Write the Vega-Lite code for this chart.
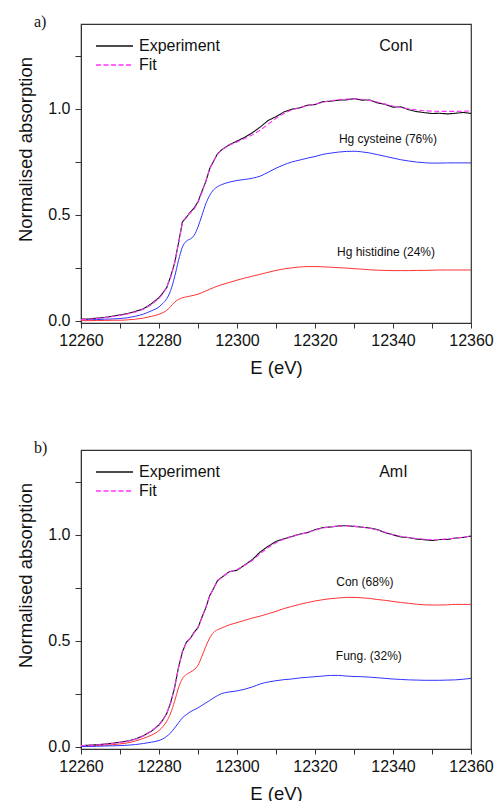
{
"$schema": "https://vega.github.io/schema/vega-lite/v6.json",
"padding": {"left": 16, "top": 13, "right": 5, "bottom": 5},
"spacing": 61,
"datasets": {
"a": [
{"E":12260,"Experiment":0.008,"Fit":0.006,"cysteine":0.004,"histidine":0.001},
{"E":12262,"Experiment":0.009,"Fit":0.008,"cysteine":0.005,"histidine":0.001},
{"E":12264,"Experiment":0.013,"Fit":0.011,"cysteine":0.006,"histidine":0.002},
{"E":12266,"Experiment":0.016,"Fit":0.015,"cysteine":0.008,"histidine":0.002},
{"E":12268,"Experiment":0.022,"Fit":0.020,"cysteine":0.009,"histidine":0.003},
{"E":12270,"Experiment":0.028,"Fit":0.026,"cysteine":0.011,"histidine":0.003},
{"E":12272,"Experiment":0.035,"Fit":0.033,"cysteine":0.015,"histidine":0.005},
{"E":12274,"Experiment":0.045,"Fit":0.042,"cysteine":0.022,"histidine":0.008},
{"E":12276,"Experiment":0.057,"Fit":0.055,"cysteine":0.032,"histidine":0.013},
{"E":12278,"Experiment":0.080,"Fit":0.076,"cysteine":0.047,"histidine":0.021},
{"E":12280,"Experiment":0.110,"Fit":0.106,"cysteine":0.066,"histidine":0.031},
{"E":12281,"Experiment":0.132,"Fit":0.128,"cysteine":0.083,"histidine":0.039},
{"E":12282,"Experiment":0.158,"Fit":0.160,"cysteine":0.105,"histidine":0.050},
{"E":12283,"Experiment":0.210,"Fit":0.207,"cysteine":0.144,"histidine":0.068},
{"E":12284,"Experiment":0.272,"Fit":0.275,"cysteine":0.207,"histidine":0.088},
{"E":12285,"Experiment":0.368,"Fit":0.365,"cysteine":0.285,"histidine":0.101},
{"E":12286,"Experiment":0.466,"Fit":0.462,"cysteine":0.348,"histidine":0.109},
{"E":12287,"Experiment":0.488,"Fit":0.492,"cysteine":0.376,"histidine":0.113},
{"E":12288,"Experiment":0.512,"Fit":0.508,"cysteine":0.386,"histidine":0.117},
{"E":12289,"Experiment":0.532,"Fit":0.527,"cysteine":0.403,"histidine":0.121},
{"E":12290,"Experiment":0.562,"Fit":0.558,"cysteine":0.443,"histidine":0.126},
{"E":12291,"Experiment":0.610,"Fit":0.605,"cysteine":0.497,"histidine":0.133},
{"E":12292,"Experiment":0.657,"Fit":0.660,"cysteine":0.552,"histidine":0.141},
{"E":12293,"Experiment":0.718,"Fit":0.715,"cysteine":0.592,"histidine":0.149},
{"E":12294,"Experiment":0.753,"Fit":0.755,"cysteine":0.618,"histidine":0.157},
{"E":12295,"Experiment":0.788,"Fit":0.785,"cysteine":0.633,"histidine":0.164},
{"E":12296,"Experiment":0.806,"Fit":0.806,"cysteine":0.642,"histidine":0.170},
{"E":12298,"Experiment":0.830,"Fit":0.828,"cysteine":0.654,"histidine":0.181},
{"E":12300,"Experiment":0.848,"Fit":0.843,"cysteine":0.662,"histidine":0.192},
{"E":12302,"Experiment":0.866,"Fit":0.860,"cysteine":0.667,"histidine":0.202},
{"E":12304,"Experiment":0.888,"Fit":0.878,"cysteine":0.673,"histidine":0.211},
{"E":12306,"Experiment":0.915,"Fit":0.900,"cysteine":0.683,"histidine":0.220},
{"E":12308,"Experiment":0.945,"Fit":0.928,"cysteine":0.701,"histidine":0.229},
{"E":12310,"Experiment":0.963,"Fit":0.955,"cysteine":0.720,"histidine":0.238},
{"E":12312,"Experiment":0.985,"Fit":0.978,"cysteine":0.736,"histidine":0.245},
{"E":12314,"Experiment":0.998,"Fit":0.995,"cysteine":0.749,"histidine":0.250},
{"E":12316,"Experiment":1.004,"Fit":1.006,"cysteine":0.758,"histidine":0.254},
{"E":12318,"Experiment":1.017,"Fit":1.014,"cysteine":0.767,"histidine":0.256},
{"E":12320,"Experiment":1.020,"Fit":1.022,"cysteine":0.775,"histidine":0.256},
{"E":12322,"Experiment":1.034,"Fit":1.031,"cysteine":0.785,"histidine":0.255},
{"E":12324,"Experiment":1.036,"Fit":1.038,"cysteine":0.791,"histidine":0.253},
{"E":12326,"Experiment":1.041,"Fit":1.043,"cysteine":0.796,"histidine":0.251},
{"E":12328,"Experiment":1.042,"Fit":1.046,"cysteine":0.799,"histidine":0.249},
{"E":12330,"Experiment":1.048,"Fit":1.047,"cysteine":0.800,"histidine":0.246},
{"E":12332,"Experiment":1.041,"Fit":1.045,"cysteine":0.797,"histidine":0.244},
{"E":12334,"Experiment":1.042,"Fit":1.040,"cysteine":0.792,"histidine":0.241},
{"E":12336,"Experiment":1.028,"Fit":1.032,"cysteine":0.784,"histidine":0.239},
{"E":12338,"Experiment":1.021,"Fit":1.022,"cysteine":0.776,"histidine":0.238},
{"E":12340,"Experiment":1.008,"Fit":1.013,"cysteine":0.768,"histidine":0.237},
{"E":12342,"Experiment":1.009,"Fit":1.006,"cysteine":0.760,"histidine":0.237},
{"E":12344,"Experiment":0.996,"Fit":1.000,"cysteine":0.754,"histidine":0.237},
{"E":12346,"Experiment":0.987,"Fit":0.995,"cysteine":0.749,"histidine":0.238},
{"E":12348,"Experiment":0.982,"Fit":0.991,"cysteine":0.746,"histidine":0.238},
{"E":12350,"Experiment":0.978,"Fit":0.989,"cysteine":0.744,"histidine":0.239},
{"E":12352,"Experiment":0.979,"Fit":0.988,"cysteine":0.744,"histidine":0.240},
{"E":12354,"Experiment":0.976,"Fit":0.988,"cysteine":0.745,"histidine":0.240},
{"E":12356,"Experiment":0.979,"Fit":0.988,"cysteine":0.745,"histidine":0.240},
{"E":12358,"Experiment":0.983,"Fit":0.989,"cysteine":0.745,"histidine":0.240},
{"E":12360,"Experiment":0.978,"Fit":0.990,"cysteine":0.745,"histidine":0.240}
],
"b": [
{"E":12260,"Experiment":0.006,"Fit":0.006,"con":0.003,"fung":0.002},
{"E":12262,"Experiment":0.008,"Fit":0.007,"con":0.004,"fung":0.002},
{"E":12264,"Experiment":0.010,"Fit":0.009,"con":0.006,"fung":0.003},
{"E":12266,"Experiment":0.013,"Fit":0.012,"con":0.008,"fung":0.004},
{"E":12268,"Experiment":0.017,"Fit":0.016,"con":0.010,"fung":0.005},
{"E":12270,"Experiment":0.022,"Fit":0.021,"con":0.014,"fung":0.006},
{"E":12272,"Experiment":0.028,"Fit":0.027,"con":0.019,"fung":0.008},
{"E":12274,"Experiment":0.037,"Fit":0.036,"con":0.028,"fung":0.011},
{"E":12276,"Experiment":0.053,"Fit":0.051,"con":0.040,"fung":0.016},
{"E":12278,"Experiment":0.073,"Fit":0.074,"con":0.055,"fung":0.022},
{"E":12280,"Experiment":0.104,"Fit":0.102,"con":0.077,"fung":0.030},
{"E":12281,"Experiment":0.128,"Fit":0.127,"con":0.096,"fung":0.038},
{"E":12282,"Experiment":0.158,"Fit":0.160,"con":0.121,"fung":0.050},
{"E":12283,"Experiment":0.209,"Fit":0.207,"con":0.160,"fung":0.066},
{"E":12284,"Experiment":0.280,"Fit":0.278,"con":0.215,"fung":0.089},
{"E":12285,"Experiment":0.375,"Fit":0.372,"con":0.278,"fung":0.113},
{"E":12286,"Experiment":0.448,"Fit":0.451,"con":0.322,"fung":0.137},
{"E":12287,"Experiment":0.493,"Fit":0.490,"con":0.341,"fung":0.152},
{"E":12288,"Experiment":0.511,"Fit":0.513,"con":0.352,"fung":0.165},
{"E":12289,"Experiment":0.540,"Fit":0.537,"con":0.364,"fung":0.175},
{"E":12290,"Experiment":0.562,"Fit":0.564,"con":0.385,"fung":0.184},
{"E":12291,"Experiment":0.611,"Fit":0.608,"con":0.427,"fung":0.196},
{"E":12292,"Experiment":0.656,"Fit":0.658,"con":0.474,"fung":0.207},
{"E":12293,"Experiment":0.713,"Fit":0.710,"con":0.513,"fung":0.219},
{"E":12294,"Experiment":0.747,"Fit":0.749,"con":0.540,"fung":0.231},
{"E":12295,"Experiment":0.784,"Fit":0.780,"con":0.552,"fung":0.242},
{"E":12296,"Experiment":0.798,"Fit":0.801,"con":0.560,"fung":0.251},
{"E":12298,"Experiment":0.826,"Fit":0.824,"con":0.575,"fung":0.259},
{"E":12300,"Experiment":0.833,"Fit":0.837,"con":0.586,"fung":0.264},
{"E":12302,"Experiment":0.858,"Fit":0.856,"con":0.597,"fung":0.272},
{"E":12304,"Experiment":0.884,"Fit":0.880,"con":0.608,"fung":0.283},
{"E":12306,"Experiment":0.920,"Fit":0.912,"con":0.617,"fung":0.297},
{"E":12308,"Experiment":0.946,"Fit":0.940,"con":0.628,"fung":0.306},
{"E":12310,"Experiment":0.969,"Fit":0.963,"con":0.639,"fung":0.312},
{"E":12312,"Experiment":0.981,"Fit":0.979,"con":0.652,"fung":0.317},
{"E":12314,"Experiment":0.992,"Fit":0.991,"con":0.662,"fung":0.320},
{"E":12316,"Experiment":1.003,"Fit":1.002,"con":0.672,"fung":0.325},
{"E":12318,"Experiment":1.010,"Fit":1.011,"con":0.680,"fung":0.328},
{"E":12320,"Experiment":1.024,"Fit":1.022,"con":0.688,"fung":0.331},
{"E":12322,"Experiment":1.034,"Fit":1.032,"con":0.694,"fung":0.334},
{"E":12324,"Experiment":1.037,"Fit":1.038,"con":0.699,"fung":0.337},
{"E":12326,"Experiment":1.042,"Fit":1.041,"con":0.702,"fung":0.337},
{"E":12328,"Experiment":1.043,"Fit":1.042,"con":0.705,"fung":0.334},
{"E":12330,"Experiment":1.040,"Fit":1.041,"con":0.705,"fung":0.332},
{"E":12332,"Experiment":1.036,"Fit":1.037,"con":0.703,"fung":0.331},
{"E":12334,"Experiment":1.032,"Fit":1.031,"con":0.700,"fung":0.329},
{"E":12336,"Experiment":1.025,"Fit":1.023,"con":0.695,"fung":0.326},
{"E":12338,"Experiment":1.010,"Fit":1.012,"con":0.691,"fung":0.323},
{"E":12340,"Experiment":1.000,"Fit":1.001,"con":0.686,"fung":0.320},
{"E":12342,"Experiment":0.990,"Fit":0.993,"con":0.681,"fung":0.318},
{"E":12344,"Experiment":0.987,"Fit":0.987,"con":0.677,"fung":0.316},
{"E":12346,"Experiment":0.980,"Fit":0.983,"con":0.673,"fung":0.315},
{"E":12348,"Experiment":0.977,"Fit":0.979,"con":0.670,"fung":0.314},
{"E":12350,"Experiment":0.973,"Fit":0.977,"con":0.669,"fung":0.314},
{"E":12352,"Experiment":0.978,"Fit":0.978,"con":0.669,"fung":0.314},
{"E":12354,"Experiment":0.978,"Fit":0.981,"con":0.670,"fung":0.315},
{"E":12356,"Experiment":0.985,"Fit":0.984,"con":0.672,"fung":0.316},
{"E":12358,"Experiment":0.988,"Fit":0.989,"con":0.672,"fung":0.319},
{"E":12360,"Experiment":0.994,"Fit":0.995,"con":0.672,"fung":0.323}
],
"la": [
{"E":12340.8,"value":1.295,"label":"ConI","kind":"sample"},
{"E":12338.7,"value":0.86,"label":"Hg cysteine (76%)","kind":"component"},
{"E":12338.2,"value":0.323,"label":"Hg histidine (24%)","kind":"component"}
],
"lb": [
{"E":12340.1,"value":1.298,"label":"AmI","kind":"sample"},
{"E":12332.8,"value":0.777,"label":"Con (68%)","kind":"component"},
{"E":12333.8,"value":0.427,"label":"Fung. (32%)","kind":"component"}
]
},
"config": {
"view": {"stroke": "#333333", "strokeWidth": 1.2},
"axis": {"grid": false, "domainColor": "#333333", "tickColor": "#333333", "labelFont": "Liberation Sans", "titleFont": "Liberation Sans", "labelColor": "#111111", "titleColor": "#111111", "labelFontSize": 16, "titleFontSize": 18.5, "titleFontWeight": "normal", "labelFlush": false, "labelOverlap": false},
"legend": {"orient": "none", "legendX": 14, "legendY": 14, "title": null, "symbolType": "stroke", "symbolSize": 1369, "symbolStrokeWidth": 1.3, "labelFont": "Liberation Sans", "labelFontSize": 16, "labelColor": "#111111", "labelOffset": 5, "rowPadding": 3, "padding": 0, "clipHeight": 16},
"title": {"font": "Liberation Serif", "fontSize": 16, "fontWeight": "normal", "color": "#111111", "anchor": "start", "frame": "group", "offset": 0, "baseline": "alphabetic"}
},
"resolve": {"legend": {"color": "independent", "strokeDash": "independent"}},
"vconcat": [
{
"width": 390, "height": 299,
"title": {"text": "a)", "dx": -47, "dy": 10},
"encoding": {
"x": {"field": "E", "type": "quantitative", "scale": {"domain": [12260, 12360], "nice": false, "zero": false},
 "axis": {"title": "E (eV)", "values": [12260,12270,12280,12290,12300,12310,12320,12330,12340,12350,12360], "labelExpr": "datum.value % 20 == 0 ? format(datum.value, 'd') : ''", "tickSize": 5, "labelPadding": 4, "titlePadding": 10}},
"y": {"field": "value", "type": "quantitative", "scale": {"domain": [-0.01, 1.4], "nice": false, "zero": false},
 "axis": {"title": "Normalised absorption", "values": [0, 0.25, 0.5, 0.75, 1, 1.25], "labelExpr": "datum.value == 0 || datum.value == 0.5 || datum.value == 1 ? format(datum.value, '.1f') : ''", "tickSize": 6, "labelPadding": 5, "titlePadding": 12, "titleY": 125}}
},
"layer": [
{"data": {"name": "a"}, "transform": [{"fold": ["cysteine"], "as": ["series", "value"]}],
 "mark": {"type": "line", "color": "#3333ff", "strokeWidth": 1, "interpolate": "monotone"}},
{"data": {"name": "a"}, "transform": [{"fold": ["histidine"], "as": ["series", "value"]}],
 "mark": {"type": "line", "color": "#ff3333", "strokeWidth": 1, "interpolate": "monotone"}},
{"data": {"name": "a"}, "transform": [{"fold": ["Experiment", "Fit"], "as": ["series", "value"]}],
 "mark": {"type": "line", "strokeWidth": 1.1, "interpolate": "linear"},
 "encoding": {
  "color": {"field": "series", "type": "nominal", "scale": {"domain": ["Experiment", "Fit"], "range": ["#111111", "#ff33ff"]}, "legend": {"title": null}},
  "strokeDash": {"field": "series", "type": "nominal", "scale": {"domain": ["Experiment", "Fit"], "range": [[1, 0], [5, 2.5]]}, "legend": {"title": null}}
 }},
{"data": {"name": "la"}, "transform": [{"filter": "datum.kind == 'sample'"}],
 "mark": {"type": "text", "font": "Liberation Sans", "fontSize": 16, "color": "#111111", "align": "center", "baseline": "middle"},
 "encoding": {"text": {"field": "label"}}},
{"data": {"name": "la"}, "transform": [{"filter": "datum.kind == 'component'"}],
 "mark": {"type": "text", "font": "Liberation Sans", "fontSize": 12, "color": "#111111", "align": "center", "baseline": "middle"},
 "encoding": {"text": {"field": "label"}}}
]
},
{
"width": 390, "height": 299,
"title": {"text": "b)", "dx": -47, "dy": 10},
"encoding": {
"x": {"field": "E", "type": "quantitative", "scale": {"domain": [12260, 12360], "nice": false, "zero": false},
 "axis": {"title": "E (eV)", "values": [12260,12270,12280,12290,12300,12310,12320,12330,12340,12350,12360], "labelExpr": "datum.value % 20 == 0 ? format(datum.value, 'd') : ''", "tickSize": 5, "labelPadding": 4, "titlePadding": 10}},
"y": {"field": "value", "type": "quantitative", "scale": {"domain": [-0.01, 1.4], "nice": false, "zero": false},
 "axis": {"title": "Normalised absorption", "values": [0, 0.25, 0.5, 0.75, 1, 1.25], "labelExpr": "datum.value == 0 || datum.value == 0.5 || datum.value == 1 ? format(datum.value, '.1f') : ''", "tickSize": 6, "labelPadding": 5, "titlePadding": 12, "titleY": 125}}
},
"layer": [
{"data": {"name": "b"}, "transform": [{"fold": ["con"], "as": ["series", "value"]}],
 "mark": {"type": "line", "color": "#ff3333", "strokeWidth": 1, "interpolate": "monotone"}},
{"data": {"name": "b"}, "transform": [{"fold": ["fung"], "as": ["series", "value"]}],
 "mark": {"type": "line", "color": "#3333ff", "strokeWidth": 1, "interpolate": "monotone"}},
{"data": {"name": "b"}, "transform": [{"fold": ["Experiment", "Fit"], "as": ["series", "value"]}],
 "mark": {"type": "line", "strokeWidth": 1.1, "interpolate": "linear"},
 "encoding": {
  "color": {"field": "series", "type": "nominal", "scale": {"domain": ["Experiment", "Fit"], "range": ["#111111", "#ff33ff"]}, "legend": {"title": null}},
  "strokeDash": {"field": "series", "type": "nominal", "scale": {"domain": ["Experiment", "Fit"], "range": [[1, 0], [5, 2.5]]}, "legend": {"title": null}}
 }},
{"data": {"name": "lb"}, "transform": [{"filter": "datum.kind == 'sample'"}],
 "mark": {"type": "text", "font": "Liberation Sans", "fontSize": 16, "color": "#111111", "align": "center", "baseline": "middle"},
 "encoding": {"text": {"field": "label"}}},
{"data": {"name": "lb"}, "transform": [{"filter": "datum.kind == 'component'"}],
 "mark": {"type": "text", "font": "Liberation Sans", "fontSize": 12, "color": "#111111", "align": "center", "baseline": "middle"},
 "encoding": {"text": {"field": "label"}}}
]
}
]
}
